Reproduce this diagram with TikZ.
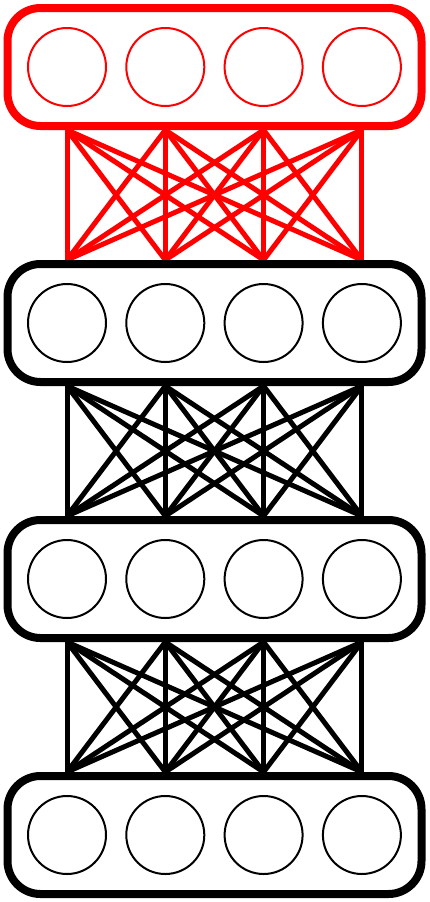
\documentclass[tikz,border=0pt]{standalone}
\usetikzlibrary{backgrounds}
\begin{document}
\begin{tikzpicture}[
		x=1pt, y=-1pt,
		layer/.style={line width=8pt, rounded corners=33pt, minimum width=414pt, minimum height=118pt, inner sep=0pt},
		unit/.style={circle, line width=2pt, minimum size=78pt, inner sep=0pt},
		link/.style={line width=5pt}
		]
		
		\useasboundingbox (0,0) rectangle (429,902);
		
		\foreach \l/\y/\c in {1/67/red, 2/323/black, 3/579/black, 4/835/black} {
			\node[layer, draw=\c] (L\l) at (214.5,\y) {};
			\foreach \i in {1,...,4}
				\node[unit, draw=\c] (n\l\i) at (67+98.3*\i-98.3,\y) {};
		}
		
		\begin{pgfonlayer}{background}
			\foreach \l/\m/\c in {1/2/red, 2/3/black, 3/4/black}
				\foreach \i in {1,...,4}
					\foreach \j in {1,...,4}
						\draw[link, draw=\c] (n\l\i |- L\l.south) -- (n\m\j |- L\m.north);
		\end{pgfonlayer}
		
	\end{tikzpicture}
\end{document}
